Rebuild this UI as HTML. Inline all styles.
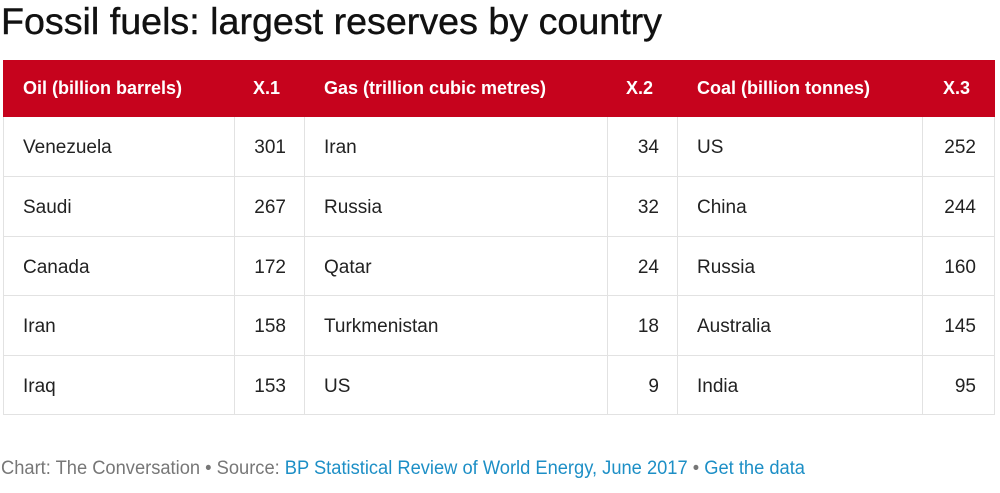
<!DOCTYPE html>
<html><head><meta charset="utf-8">
<style>
body{margin:0;width:1000px;height:493px;background:#fff;font-family:"Liberation Sans",Arial,sans-serif;overflow:hidden;position:relative}
.c{position:absolute;box-sizing:border-box;font-size:19px;color:#222;display:flex;align-items:center;padding:3px 19px 0 19px;border-right:1px solid #e2e2e2;border-bottom:1px solid #e2e2e2}
.h{background:#c6031d;color:#fff;font-weight:bold;font-size:18px;border-color:#c6031d;padding-top:1px}
.r{justify-content:flex-end;padding-right:18px}
.h.r{padding-right:24px}
</style></head><body>
<svg width="1000" height="493" style="position:absolute;left:0;top:0">
<text x="1" y="34" font-size="37" fill="#111" stroke="#111" stroke-width="0.4" textLength="661" lengthAdjust="spacingAndGlyphs" font-family="Liberation Sans, sans-serif">Fossil fuels: largest reserves by country</text>
<text x="1" y="474" font-size="19" fill="#777" textLength="804" lengthAdjust="spacingAndGlyphs" font-family="Liberation Sans, sans-serif">Chart: The Conversation • Source: <tspan fill="#1d8fc6">BP Statistical Review of World Energy, June 2017</tspan> • <tspan fill="#1d8fc6">Get the data</tspan></text>
</svg>
<div id="tbl" style="position:absolute;left:0;top:0;width:1000px;height:493px;border-left:0"></div>
<script>
const headers=["Oil (billion barrels)","X.1","Gas (trillion cubic metres)","X.2","Coal (billion tonnes)","X.3"];
const oilCountries=["Venezuela","Saudi","Canada","Iran","Iraq"];
const oilValues=[301,267,172,158,153];
const gasCountries=["Iran","Russia","Qatar","Turkmenistan","US"];
const gasValues=[34,32,24,18,9];
const coalCountries=["US","China","Russia","Australia","India"];
const coalValues=[252,244,160,145,95];
const colX=[3,235,305,608,678,923,995];
const rowY=[60,117,177,237,296,356,415];
const t=document.getElementById('tbl');
function cell(col,row,text,cls,name){
  const d=document.createElement('div');
  d.className='c '+cls;
  d.style.left=colX[col]+'px';d.style.top=rowY[row]+'px';
  d.style.width=(colX[col+1]-colX[col])+'px';d.style.height=(rowY[row+1]-rowY[row])+'px';
  if(col===0)d.style.borderLeft=cls.includes('h')?'1px solid #c6031d':'1px solid #e2e2e2';
  d.textContent=text;
  
  
  t.appendChild(d);
}
headers.forEach((h,i)=>cell(i,0,h,'h'+(i%2?' r':''),'header-'+h.split(' ')[0].toLowerCase().replace('.','-')));
const cols=[oilCountries,oilValues,gasCountries,gasValues,coalCountries,coalValues];
for(let r=0;r<5;r++){
  cols.forEach((arr,i)=>cell(i,r+1,String(arr[r]),i%2?'r':'',(i%2?'value-':'country-')+'row'+(r+1)+'-col'+(i+1)));
}
</script>
</body></html>
